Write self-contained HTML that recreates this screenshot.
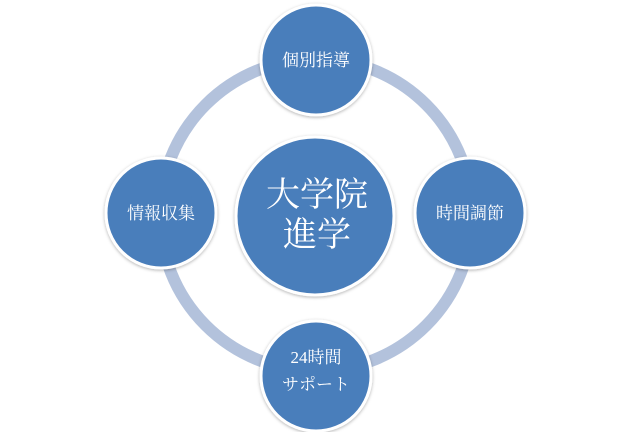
<!DOCTYPE html>
<html><head><meta charset="utf-8"><style>
html,body{margin:0;padding:0;background:#fff;width:631px;height:432px;overflow:hidden}
svg{display:block}
text{font-family:"Liberation Serif","Noto Serif CJK SC","Noto Sans CJK JP",serif;fill:#fff;text-anchor:middle}
</style></head><body>
<svg width="631" height="432" viewBox="0 0 631 432">
<defs>
<filter id="s" x="-20%" y="-20%" width="140%" height="140%"><feDropShadow dx="0" dy="1" stdDeviation="1.5" flood-color="#000" flood-opacity="0.3"/></filter>
</defs>
<circle cx="316" cy="215" r="156" fill="none" stroke="#b3c2dc" stroke-width="12"/>
<g filter="url(#s)" fill="#4a7ebb" stroke="#fff" stroke-width="3">
<circle cx="316" cy="60" r="55"/>
<circle cx="161" cy="213" r="55"/>
<circle cx="470" cy="213" r="55"/>
<circle cx="316" cy="376" r="55"/>
<circle cx="315" cy="216" r="79"/>
</g>
<text x="316" y="66" font-size="17">個別指導</text>
<text x="161" y="219" font-size="17">情報収集</text>
<text x="470" y="219" font-size="17">時間調節</text>
<text x="316" y="363" font-size="17">24時間</text>
<text x="316" y="390" font-size="17">サポート</text>
<text x="317" y="206" font-size="34">大学院</text>
<text x="317" y="246" font-size="34">進学</text>
</svg>
</body></html>
